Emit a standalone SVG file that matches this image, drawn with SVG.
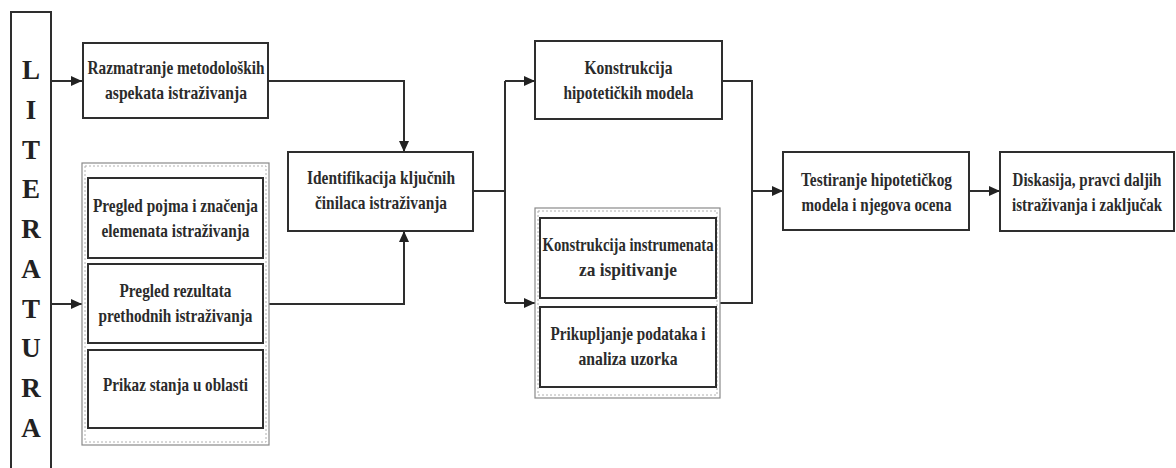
<svg xmlns="http://www.w3.org/2000/svg" width="1176" height="468" viewBox="0 0 1176 468">
  <defs>
    <style>
      .box { fill: #ffffff; stroke: #2e2e2e; stroke-width: 2; }
      .grp { fill: none; stroke: #8a8a8a; stroke-width: 1.2; }
      .grp2 { fill: none; stroke: #b0b0b0; stroke-width: 1; stroke-dasharray: 2 2; }
      .lbl { font-family: "Liberation Serif", "Times New Roman", serif; font-weight: bold; font-size: 19px; fill: #2b2b2b; text-anchor: middle; }
      .lit { font-family: "Liberation Serif", "Times New Roman", serif; font-weight: bold; font-size: 27px; fill: #222222; text-anchor: middle; }
      .wire { fill: none; stroke: #2e2e2e; stroke-width: 2; }
    </style>
    <marker id="arrow" markerUnits="userSpaceOnUse" markerWidth="12" markerHeight="10" refX="11" refY="5" orient="auto">
      <path d="M0,0 L11,5 L0,10 z" fill="#222222"/>
    </marker>
  </defs>

  <rect width="1176" height="468" fill="#ffffff"/>

  <!-- vertical literature column -->
  <g id="literatura">
    <rect class="box" x="11" y="12" width="40" height="470"/>
    <text class="lit" x="31" y="79">L</text>
    <text class="lit" x="31" y="119">I</text>
    <text class="lit" x="31" y="159">T</text>
    <text class="lit" x="31" y="198">E</text>
    <text class="lit" x="31" y="238">R</text>
    <text class="lit" x="31" y="278">A</text>
    <text class="lit" x="31" y="318">T</text>
    <text class="lit" x="31" y="357">U</text>
    <text class="lit" x="31" y="397">R</text>
    <text class="lit" x="31" y="437">A</text>
  </g>

  <!-- connectors -->
  <g id="connectors">
    <path class="wire" d="M51,81 H82" marker-end="url(#arrow)"/>
    <path class="wire" d="M51,304 H82" marker-end="url(#arrow)"/>
    <path class="wire" d="M268,81 H404 V152" marker-end="url(#arrow)"/>
    <path class="wire" d="M269,304 H404 V231" marker-end="url(#arrow)"/>
    <path class="wire" d="M473,191 H505"/>
    <path class="wire" d="M505,81 V303"/>
    <path class="wire" d="M505,81 H535" marker-end="url(#arrow)"/>
    <path class="wire" d="M505,303 H535" marker-end="url(#arrow)"/>
    <path class="wire" d="M722,81 H752 V303 H720"/>
    <path class="wire" d="M752,191 H783" marker-end="url(#arrow)"/>
    <path class="wire" d="M969,191 H1000" marker-end="url(#arrow)"/>
  </g>

  <g id="razmatranje">
    <rect class="box" x="83" y="43" width="185" height="75"/>
    <text class="lbl" x="176" y="74" textLength="177" lengthAdjust="spacingAndGlyphs">Razmatranje metodoloških</text>
    <text class="lbl" x="176" y="99" textLength="142" lengthAdjust="spacingAndGlyphs">aspekata istraživanja</text>
  </g>

  <g id="pregled-grupa">
    <rect class="grp" x="82" y="163" width="187" height="282"/>
    <rect class="grp2" x="85" y="166" width="181" height="276"/>
  </g>

  <g id="pregled-pojma">
    <rect class="box" x="88" y="178" width="175" height="80"/>
    <text class="lbl" x="175.5" y="212" textLength="165" lengthAdjust="spacingAndGlyphs">Pregled pojma i značenja</text>
    <text class="lbl" x="175.5" y="237" textLength="148" lengthAdjust="spacingAndGlyphs">elemenata istraživanja</text>
  </g>

  <g id="pregled-rezultata">
    <rect class="box" x="88" y="264" width="175" height="79"/>
    <text class="lbl" x="175.5" y="297" textLength="112" lengthAdjust="spacingAndGlyphs">Pregled rezultata</text>
    <text class="lbl" x="175.5" y="322" textLength="154" lengthAdjust="spacingAndGlyphs">prethodnih istraživanja</text>
  </g>

  <g id="prikaz-stanja">
    <rect class="box" x="88" y="350" width="175" height="78"/>
    <text class="lbl" x="175.5" y="391" textLength="145" lengthAdjust="spacingAndGlyphs">Prikaz stanja u oblasti</text>
  </g>

  <g id="identifikacija">
    <rect class="box" x="288" y="152" width="185" height="79"/>
    <text class="lbl" x="381" y="184" textLength="148" lengthAdjust="spacingAndGlyphs">Identifikacija ključnih</text>
    <text class="lbl" x="381" y="209" textLength="132" lengthAdjust="spacingAndGlyphs">činilaca istraživanja</text>
  </g>

  <g id="konstrukcija-modela">
    <rect class="box" x="535" y="41" width="187" height="78"/>
    <text class="lbl" x="628.5" y="74" textLength="88" lengthAdjust="spacingAndGlyphs">Konstrukcija</text>
    <text class="lbl" x="628.5" y="99" textLength="130" lengthAdjust="spacingAndGlyphs">hipotetičkih modela</text>
  </g>

  <g id="instrument-grupa">
    <rect class="grp" x="535" y="208" width="185" height="190"/>
    <rect class="grp2" x="538" y="211" width="179" height="184"/>
  </g>

  <g id="konstrukcija-instrumenta">
    <rect class="box" x="540" y="218" width="176" height="80"/>
    <text class="lbl" x="628" y="251" textLength="171" lengthAdjust="spacingAndGlyphs">Konstrukcija instrumenata</text>
    <text class="lbl" x="628" y="276" textLength="98" lengthAdjust="spacingAndGlyphs">za ispitivanje</text>
  </g>

  <g id="prikupljanje">
    <rect class="box" x="540" y="307" width="176" height="80"/>
    <text class="lbl" x="628" y="340" textLength="155" lengthAdjust="spacingAndGlyphs">Prikupljanje podataka i</text>
    <text class="lbl" x="628" y="365" textLength="99" lengthAdjust="spacingAndGlyphs">analiza uzorka</text>
  </g>

  <g id="testiranje">
    <rect class="box" x="783" y="152" width="186" height="78"/>
    <text class="lbl" x="876.5" y="186" textLength="151" lengthAdjust="spacingAndGlyphs">Testiranje hipotetičkog</text>
    <text class="lbl" x="876.5" y="211" textLength="150" lengthAdjust="spacingAndGlyphs">modela i njegova ocena</text>
  </g>

  <g id="diskusija">
    <rect class="box" x="1000" y="152" width="174" height="79"/>
    <text class="lbl" transform="translate(1087,186) scale(0.79,1)">Diskasija, pravci daljih</text>
    <text class="lbl" transform="translate(1087,211) scale(0.79,1)">istraživanja i zaključak</text>
  </g>
</svg>
